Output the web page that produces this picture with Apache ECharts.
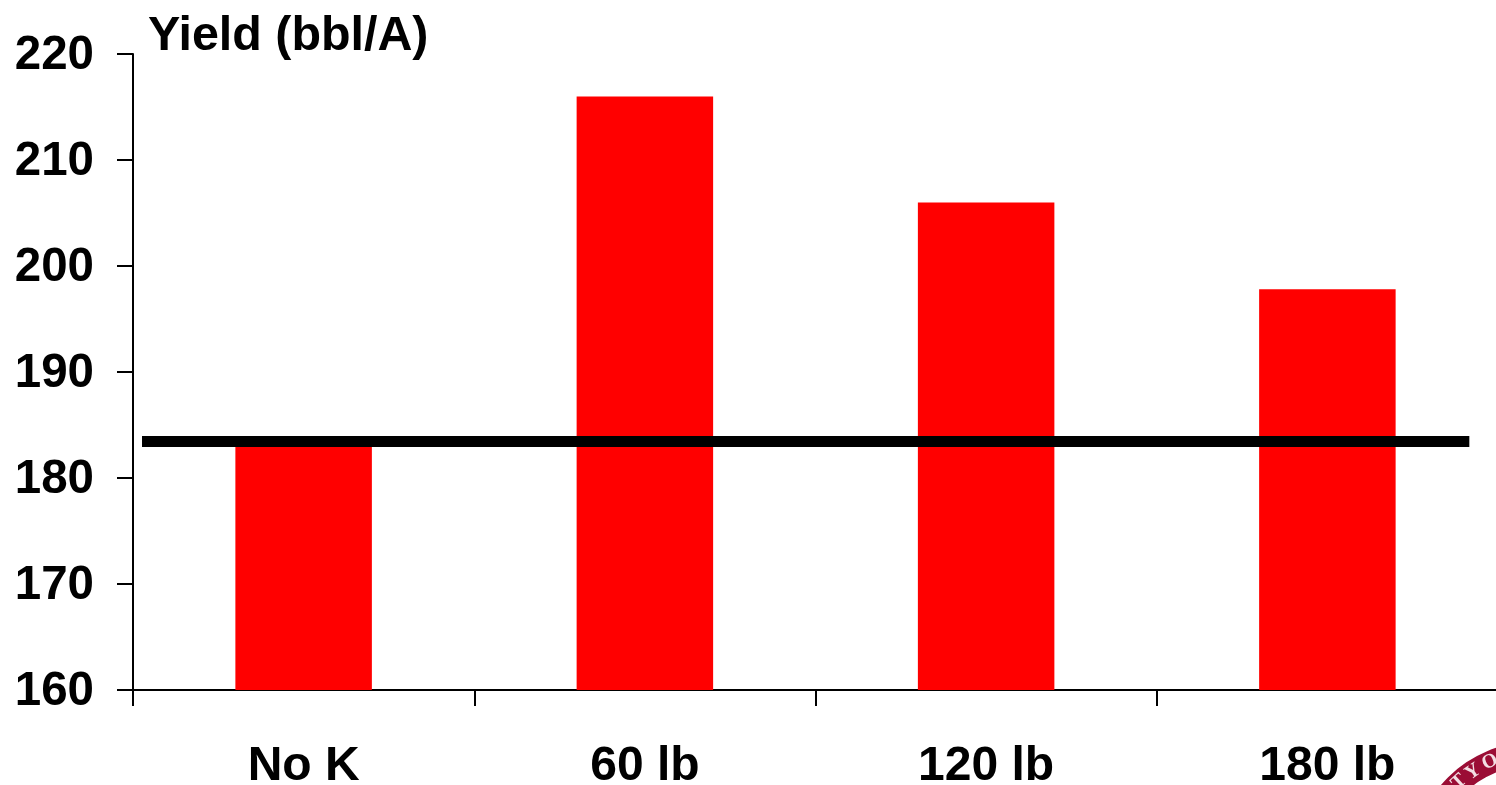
<!DOCTYPE html>
<html><head><meta charset="utf-8">
<style>html,body{margin:0;padding:0;background:#fff;overflow:hidden}#c{width:1496px;height:785px}</style>
<script src="https://cdn.jsdelivr.net/npm/echarts@6/dist/echarts.min.js"></script>
</head><body><div id="c"></div>
<script>
const categories = ['No K','60 lb','120 lb','180 lb'];
const yieldValues = [183,216,206,197.8];
const referenceLevel = [183.45,183.45];
const yTicks = [160,170,180,190,200,210,220];
const font = '"Liberation Sans", Arial, sans-serif';
const chart = echarts.init(document.getElementById('c'));
chart.setOption({
  animation:false,
  backgroundColor:'#fff',
  grid:{left:133,right:-2,top:54,bottom:95,outerBoundsMode:'none'},
  title:{text:'Yield (bbl/A)',left:143,top:8,textStyle:{fontFamily:font,fontWeight:'bold',fontSize:48.4,color:'#000'}},
  xAxis:[{type:'category',data:categories,
    axisLine:{lineStyle:{color:'#000',width:2}},
    axisTick:{show:true,length:16,alignWithLabel:false,lineStyle:{color:'#000',width:2}},
    axisLabel:{margin:53,fontFamily:font,fontWeight:'bold',fontSize:48,color:'#000'}},
    {type:'value',min:0,max:1,show:false}],
  yAxis:{type:'value',min:yTicks[0],max:yTicks[yTicks.length-1],interval:10,
    axisLine:{show:true,lineStyle:{color:'#000',width:2}},
    axisTick:{show:true,length:16,lineStyle:{color:'#000',width:2}},
    splitLine:{show:false},
    axisLabel:{margin:39,formatter:'{a|{value}}',rich:{a:{padding:[4,0,0,0],fontFamily:font,fontWeight:'bold',fontSize:47.5,color:'#000'}}}},
  series:[
    {type:'bar',data:yieldValues,barWidth:'40%',itemStyle:{color:'#ff0000'}},
    {type:'line',xAxisIndex:1,data:[[0.0066,referenceLevel[0]],[0.979,referenceLevel[1]]],symbol:'none',z:5,lineStyle:{color:'#000',width:11}}
  ],
  graphic:[
    {type:'ring',shape:{cx:1533,cy:862,r:120,r0:97},style:{fill:'#9b0d35'},silent:true},
    {type:'text',x:1459,y:782,rotation:0.75,style:{text:'T',fill:'#f3dfe4',font:'bold 20px "Liberation Serif"',align:'center',verticalAlign:'middle'},silent:true},
    {type:'text',x:1473,y:772,rotation:0.6,style:{text:'Y',fill:'#f3dfe4',font:'bold 20px "Liberation Serif"',align:'center',verticalAlign:'middle'},silent:true},
    {type:'text',x:1490,y:762,rotation:0.4,style:{text:'O',fill:'#f3dfe4',font:'bold 20px "Liberation Serif"',align:'center',verticalAlign:'middle'},silent:true}
  ]
});
</script></body></html>
